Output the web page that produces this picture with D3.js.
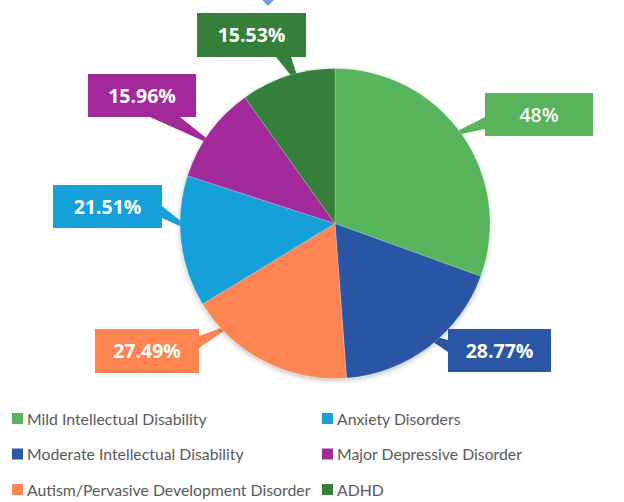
<!DOCTYPE html>
<html>
<head>
<meta charset="utf-8">
<script src="https://cdn.jsdelivr.net/npm/d3@7"></script>
<style>
  html, body { margin: 0; padding: 0; background: #ffffff; }
  svg { display: block; }
</style>
</head>
<body>
<svg id="chart" width="624" height="502"></svg>
<script>
// Share of diagnoses (percent of cases)
const categories = [
  "Mild Intellectual Disability",
  "Moderate Intellectual Disability",
  "Autism/Pervasive Development Disorder",
  "Anxiety Disorders",
  "Major Depressive Disorder",
  "ADHD"
];
const values = [48, 28.77, 27.49, 21.51, 15.96, 15.53];
const valueLabels = ["48%", "28.77%", "27.49%", "21.51%", "15.96%", "15.53%"];
const colors = ["#57b45d", "#2b55a5", "#fe8452", "#16a0da", "#a3299b", "#367f3b"];

// Callout layout: box (x, y, w, h), pointer base segment, pointer tip angle (deg, clockwise from top)
const callouts = [
  { box: [485, 93, 108, 43], base: [[485, 117], [485, 129]], tip: 52 },
  { box: [448, 329, 103, 43], base: [[448, 340], [448, 352]], tip: 142 },
  { box: [95, 329, 104, 44], base: [[199, 336], [199, 348]], tip: 225 },
  { box: [53, 185, 109, 43], base: [[162, 206], [162, 218]], tip: 266 },
  { box: [88, 74, 108, 43], base: [[150, 117], [180, 117]], tip: 303 },
  { box: [197, 13, 109, 44], base: [[276, 57], [291, 57]], tip: 346 }
];

const svg = d3.select("#chart");
const cx = 335, cy = 223.5, radius = 155;

const data = categories.map((c, i) => ({ name: c, value: values[i], label: valueLabels[i], color: colors[i] }));

const pie = d3.pie().value(d => d.value).sort(null);
const arcs = pie(data);
const arc = d3.arc().innerRadius(0).outerRadius(radius);

// soft drop shadow under the pie
const defs = svg.append("defs");
const f = defs.append("filter").attr("id", "shadow").attr("x", "-20%").attr("y", "-20%").attr("width", "140%").attr("height", "140%");
f.append("feGaussianBlur").attr("in", "SourceAlpha").attr("stdDeviation", 2.5);
f.append("feOffset").attr("dx", 0).attr("dy", 1.5).attr("result", "b");
f.append("feComponentTransfer").append("feFuncA").attr("type", "linear").attr("slope", 0.25);
const fm = f.append("feMerge");
fm.append("feMergeNode");
fm.append("feMergeNode").attr("in", "SourceGraphic");

// small marker at the top edge
svg.append("path")
  .attr("d", "M268,-8 L275,-1 L268,6 L261,-1 Z")
  .attr("fill", "#6f9be8");

// callout pointers sit beneath the pie
const g = svg.append("g");
const pointerG = g.append("g");
callouts.forEach((c, i) => {
  const a = c.tip * Math.PI / 180;
  const tx = cx + Math.sin(a) * radius * 0.9;
  const ty = cy - Math.cos(a) * radius * 0.9;
  pointerG.append("path")
    .attr("d", `M${c.base[0][0]},${c.base[0][1]} L${tx},${ty} L${c.base[1][0]},${c.base[1][1]} Z`)
    .attr("fill", colors[i]);
});

// pie slices
g.append("g")
  .attr("transform", `translate(${cx},${cy})`)
  .attr("filter", "url(#shadow)")
  .selectAll("path")
  .data(arcs)
  .join("path")
  .attr("d", arc)
  .attr("fill", d => d.data.color)
  .attr("stroke", "#ffffff")
  .attr("stroke-opacity", 0.35)
  .attr("stroke-width", 0.6);

// callout boxes with value labels
const boxG = svg.append("g");
callouts.forEach((c, i) => {
  const [x, y, w, h] = c.box;
  boxG.append("rect")
    .attr("x", x).attr("y", y).attr("width", w).attr("height", h)
    .attr("fill", colors[i]);
  boxG.append("text")
    .attr("x", x + w / 2).attr("y", y + h / 2)
    .attr("dy", "0.36em")
    .attr("text-anchor", "middle")
    .attr("fill", "#ffffff")
    .attr("font-family", "'Open Sans', 'Noto Sans', sans-serif")
    .attr("font-weight", i === 0 ? 600 : 700)
    .attr("font-size", 19.5)
    .text(data[i].label);
});

// legend: two columns, three rows
const legend = svg.append("g");
const colX = [12, 322];
const rowY = [419, 454.5, 490];
data.forEach((d, i) => {
  const col = i < 3 ? 0 : 1;
  const row = i % 3;
  const lg = legend.append("g").attr("transform", `translate(${colX[col]},${rowY[row]})`);
  lg.append("rect").attr("x", 0).attr("y", -6).attr("width", 11).attr("height", 11).attr("fill", d.color);
  lg.append("text")
    .attr("x", 15).attr("y", 0).attr("dy", "0.35em")
    .attr("fill", "#595959")
    .attr("font-family", "Lato, 'Open Sans', sans-serif")
    .attr("font-size", 15.8)
    .text(d.name);
});
</script>
</body>
</html>
